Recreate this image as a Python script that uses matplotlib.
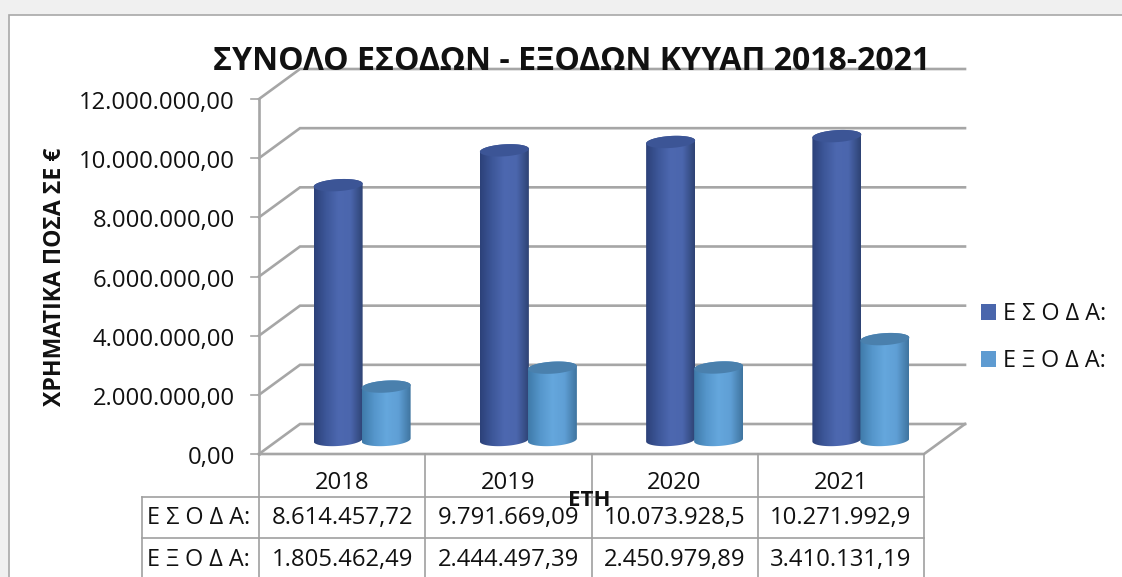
import numpy as np
import matplotlib
matplotlib.use("Agg")
import matplotlib.pyplot as plt
from matplotlib.colors import LinearSegmentedColormap
from matplotlib.patches import PathPatch, Rectangle, Patch
from matplotlib.path import Path
from matplotlib.transforms import Affine2D

years = ["2018", "2019", "2020", "2021"]
esoda = [8614457.72, 9791669.09, 10073928.5, 10271992.9]
exoda = [1805462.49, 2444497.39, 2450979.89, 3410131.19]
esoda_labels = ["8.614.457,72", "9.791.669,09", "10.073.928,5", "10.271.992,9"]
exoda_labels = ["1.805.462,49", "2.444.497,39", "2.450.979,89", "3.410.131,19"]
series_names = ["Ε Σ Ο Δ Α:", "Ε Ξ Ο Δ Α:"]
y_ticks = [0, 2000000, 4000000, 6000000, 8000000, 10000000, 12000000]
y_labels = ["0,00", "2.000.000,00", "4.000.000,00", "6.000.000,00", "8.000.000,00", "10.000.000,00", "12.000.000,00"]
title = "ΣΥΝΟΛΟ ΕΣΟΔΩΝ - ΕΞΟΔΩΝ ΚΥΥΑΠ 2018-2021"
ylabel = "ΧΡΗΜΑΤΙΚΑ ΠΟΣΑ ΣΕ €"
xlabel = "ΕΤΗ"

W, H = 1122, 577
FONT = ["Open Sans", "Noto Sans", "DejaVu Sans"]
plt.rcParams["font.family"] = FONT
GRID = "#a6a6a6"
TBL = "#a0a0a0"

fig = plt.figure(figsize=(W / 100, H / 100), dpi=100, facecolor="#f0f0f0")
px = Affine2D().scale(1, -1).translate(0, H)  # reference pixel coordinates

fig.add_artist(Rectangle((9, 15), W, H, transform=px, facecolor="white",
                         edgecolor="#a8a8a8", linewidth=1.2, zorder=-5))

L, R, T, B = 259, 924, 99, 454
ax = fig.add_axes([L / W, 1 - B / H, (R - L) / W, (B - T) / H], zorder=1)
ax.patch.set_alpha(0)
for s in ax.spines.values():
    s.set_visible(False)
ax.set_xticks([])
ax.set_yticks([])
ax.set_xlim(0, 4)
ax.set_ylim(0, 12000000)
ux = 4 / (R - L)
uy = 12000000 / (B - T)
dx, dy = 41 * ux, 30 * uy

# walls and floor
for v in y_ticks:
    ax.plot([0, dx, 4 + dx], [v, v + dy, v + dy], color=GRID, lw=1.9, clip_on=False, zorder=1,
            solid_joinstyle="miter")
    ax.plot([-8 * ux, 0], [v, v], color=GRID, lw=1.2, clip_on=False, zorder=1)
ax.plot([0, 0], [0, 12000000], color=GRID, lw=1.9, clip_on=False, zorder=1)
ax.plot([0, 4, 4 + dx], [0, 0, dy], color=GRID, lw=1.9, clip_on=False, zorder=1)

cm1 = LinearSegmentedColormap.from_list("a", ["#2c4179", "#3d5799", "#4d68b0", "#4b66ad", "#2e4374"])
cm2 = LinearSegmentedColormap.from_list("b", ["#3f7aa9", "#5596cb", "#65a7dd", "#5f9fd5", "#3f749f"])
grad = np.linspace(0, 1, 128).reshape(1, -1)


def cylinder(xc, val, cmap, top, z):
    rx, ry = 24.5 * ux, 6 * uy
    tilt = 1.5 * uy / rx  # rim rises towards the right, in data units per x unit
    y0 = 14 * uy
    t = np.linspace(0, np.pi, 40)
    lx = xc - rx * np.cos(t)
    ux_ = xc + rx * np.cos(t)
    lower = np.c_[lx, y0 - ry * np.sin(t) + tilt * (lx - xc)]
    upper = np.c_[ux_, y0 + val + ry * np.sin(t) + tilt * (ux_ - xc)]
    pts = np.r_[lower, upper, lower[:1]]
    im = ax.imshow(grad, cmap=cmap, aspect="auto", zorder=z,
                   extent=(xc - rx, xc + rx, y0 - 2 * ry, y0 + val + 2 * ry))
    body = PathPatch(Path(pts), transform=ax.transData, facecolor="none", edgecolor="none")
    ax.add_patch(body)
    im.set_clip_path(body)
    tt = np.linspace(0, 2 * np.pi, 80)
    ex = xc + rx * np.cos(tt)
    ax.fill(ex, y0 + val + ry * np.sin(tt) + tilt * (ex - xc), color=top, zorder=z + 0.1, lw=0, clip_on=False)


for i in range(len(years)):
    xm = i + 0.5 + 20 * ux
    cylinder(xm - 24 * ux, esoda[i], cm1, "#3c5596", 3)
    cylinder(xm + 24 * ux, exoda[i], cm2, "#4a80ad", 4)
ax.set_xlim(0, 4)
ax.set_ylim(0, 12000000)

# y tick labels
for v, lab in zip(y_ticks, y_labels):
    ax.annotate(lab, (0, v), xytext=(-24, -4), textcoords="offset pixels", ha="right", va="center",
                fontsize=17.1, color="#111111", annotation_clip=False)

# data table
for x in [259, 425, 591.5, 758, 924]:
    fig.add_artist(plt.Line2D([x, x], [454, 577], transform=px, color=TBL, lw=1.2))
fig.add_artist(plt.Line2D([142, 142], [496.5, 577], transform=px, color=TBL, lw=1.2))
for y in [496.5, 537.5]:
    fig.add_artist(plt.Line2D([142, 924], [y, y], transform=px, color=TBL, lw=1.2))

rows = [(483, years), (518, esoda_labels), (560, exoda_labels)]
for y, labs in rows:
    for i, lab in enumerate(labs):
        xc = 259 + (i + 0.5) * (R - L) / 4
        fig.text(xc, y, lab, transform=px, ha="center", va="center", fontsize=17.2, color="#111111")
for y, name in zip([518, 560], series_names):
    fig.text(147, y, name, transform=px, ha="left", va="center", fontsize=16.8, color="#111111")

# titles
fig.text(572, 61, title, transform=px, ha="center", va="center", fontsize=23,
         fontweight="bold", color="#111111", zorder=10)
fig.text(589, 501, xlabel, transform=px, ha="center", va="center", fontsize=16,
         fontweight="bold", color="#111111", zorder=10)
fig.text(55, 276.5, ylabel, transform=px, ha="center", va="center", rotation=90, fontsize=16.6,
         fontweight="bold", color="#111111")

# legend
handles = [Patch(facecolor="#4a66ac", edgecolor="none"), Patch(facecolor="#5e9bd1", edgecolor="none")]
fig.legend(handles, series_names, loc="upper left", bbox_to_anchor=(974, 295), bbox_transform=px,
           frameon=False, fontsize=16.8, handlelength=0.64, handleheight=0.64, handletextpad=0.3,
           labelspacing=1.0, borderpad=0.3, borderaxespad=0, labelcolor="#111111")

fig.savefig("out.png", dpi=100, facecolor=fig.get_facecolor())
